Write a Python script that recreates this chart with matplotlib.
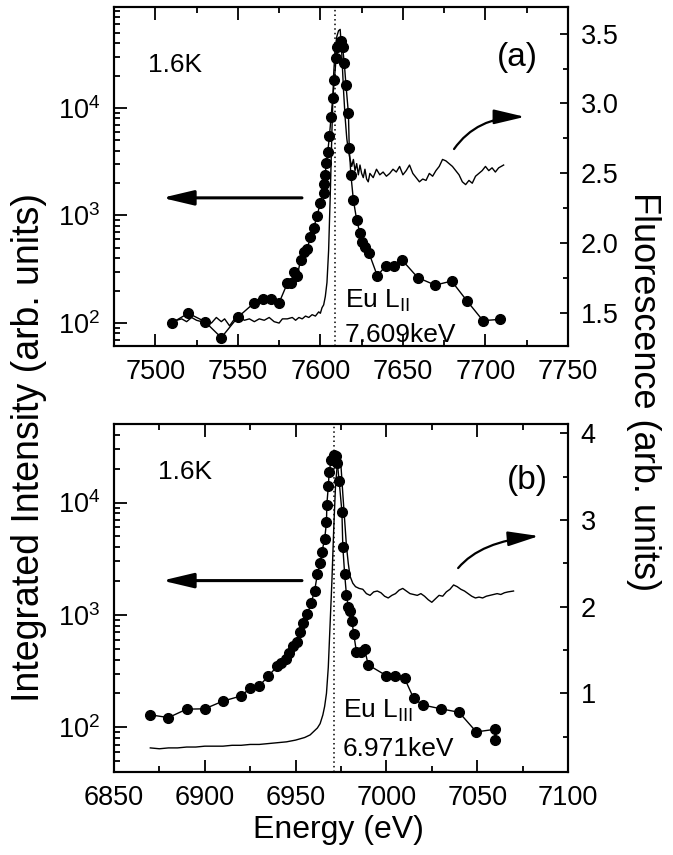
import matplotlib
matplotlib.use("Agg")
import matplotlib.pyplot as plt
from matplotlib.patches import FancyArrowPatch
from matplotlib.ticker import (MultipleLocator, LogLocator, NullFormatter,
                               FormatStrFormatter)

plt.rcParams.update({
    "font.family": ["Liberation Sans", "DejaVu Sans"],
    "mathtext.fontset": "custom",
    "mathtext.rm": "Liberation Sans",
    "mathtext.it": "Liberation Sans:italic",
    "mathtext.bf": "Liberation Sans:bold",
    "font.size": 19.5,
    "axes.linewidth": 1.5,
})

W, H = 673, 855

# --- panel (a): Eu L_II edge -------------------------------------------
energy_a = [7510, 7520, 7530, 7540, 7550, 7560, 7565, 7570, 7575, 7580,
            7582, 7584, 7586, 7588, 7590, 7592, 7594, 7596, 7598, 7600,
            7602, 7602.5, 7603, 7603.5, 7604.5, 7605.5, 7606.5, 7607.5,
            7608.5, 7609.5, 7610, 7612.5, 7613.5, 7614.5, 7615.5, 7617,
            7617.5, 7618.5, 7620, 7622, 7624, 7625.5, 7627, 7629.5, 7634.5,
            7639.5, 7644.5, 7649.5, 7659, 7669.5, 7679.5, 7689, 7698.5, 7709]
intensity_a = [100, 123, 103, 73, 113, 154, 166, 166, 154, 234,
               237, 300, 273, 385, 460, 484, 635, 770, 990, 1316,
               1630, 1950, 2380, 3100, 3920, 5500, 8300, 12500,
               18200, 29000, 36600, 42300, 36600, 26000, 16400, 8900,
               4220, 2380, 1390, 908, 682, 570, 512, 445, 274,
               339, 335, 385, 264, 225, 245, 159, 105, 108]

fl_energy_a = [7510, 7513, 7516, 7519, 7522, 7525, 7528, 7531, 7534, 7537,
               7540, 7542, 7545, 7548, 7551, 7554, 7557, 7560, 7563, 7566,
               7569, 7572, 7575, 7577, 7580, 7583, 7585, 7587, 7589, 7591,
               7593, 7595, 7597, 7599, 7600, 7601, 7602, 7603, 7604, 7605,
               7606, 7607, 7608, 7609, 7610, 7611, 7612, 7613, 7614, 7615,
               7616, 7617, 7618, 7619, 7620, 7621, 7622, 7623, 7624, 7625,
               7626, 7627, 7628, 7629, 7630, 7632, 7634, 7636, 7638, 7640,
               7642, 7644, 7646, 7648, 7650, 7652, 7654, 7656, 7658, 7660,
               7662, 7664, 7666, 7668, 7670, 7672, 7674, 7676, 7678, 7680,
               7682, 7684, 7686, 7688, 7690, 7692, 7694, 7696, 7698, 7700,
               7702, 7704, 7706, 7708, 7711]
fluor_a = [1.44, 1.45, 1.46, 1.44, 1.47, 1.45, 1.44, 1.46, 1.43, 1.47,
           1.44, 1.46, 1.41, 1.46, 1.47, 1.45, 1.46, 1.44, 1.46, 1.45,
           1.47, 1.44, 1.43, 1.46, 1.46, 1.47, 1.45, 1.47, 1.46, 1.48,
           1.47, 1.49, 1.48, 1.51, 1.50, 1.54, 1.56, 1.62, 1.72, 1.95,
           2.35, 2.80, 3.20, 3.40, 3.48, 3.52, 3.53, 3.35, 3.10, 2.90,
           2.75, 2.66, 2.60, 2.55, 2.60, 2.52, 2.57, 2.49, 2.56, 2.50,
           2.47, 2.53, 2.46, 2.44, 2.50, 2.47, 2.53, 2.49, 2.51, 2.48,
           2.50, 2.53, 2.51, 2.55, 2.49, 2.52, 2.56, 2.50, 2.47, 2.44,
           2.46, 2.45, 2.50, 2.48, 2.52, 2.55, 2.60, 2.59, 2.57, 2.55,
           2.52, 2.49, 2.44, 2.42, 2.45, 2.43, 2.48, 2.50, 2.52, 2.55,
           2.52, 2.54, 2.51, 2.54, 2.56]

# --- panel (b): Eu L_III edge ------------------------------------------
energy_b = [6870, 6880, 6890, 6900, 6910, 6920, 6925, 6930, 6935, 6940,
            6942, 6944.5, 6946.5, 6948.5, 6950.5, 6952.5, 6954, 6956.5,
            6958.5, 6960.5, 6962, 6963.5, 6964.5, 6966, 6967, 6967.2, 6968,
            6968.5, 6969.5, 6971, 6972.5, 6973, 6974, 6975.5, 6976, 6977,
            6978, 6979, 6980, 6981, 6982, 6983.5, 6986, 6988, 6990, 7000,
            7005, 7010, 7015, 7020, 7030, 7040, 7049.5, 7060, 7060]
intensity_b = [129, 122, 145, 146, 171, 190, 223, 233, 286, 351,
               376, 403, 456, 530, 578, 710, 853, 1014,
               1270, 1645, 2317, 2885, 3660, 4720, 6690, 9550, 13900,
               18700, 23700, 26600, 25700, 22400, 15400, 8300, 4050, 2317,
               1506, 1185, 1092, 889, 677, 471, 471, 495, 359, 288,
               288, 273, 181, 158, 146, 136, 91, 96, 77]

fl_energy_b = [6870, 6875, 6880, 6885, 6890, 6895, 6900, 6905, 6910, 6915,
               6920, 6925, 6930, 6935, 6940, 6945, 6950, 6955, 6958, 6960,
               6962, 6963.5, 6965, 6966, 6967, 6968, 6969, 6970, 6971, 6972,
               6973, 6974, 6975, 6976, 6977, 6978, 6979, 6980, 6981.5, 6983,
               6985, 6987, 6989, 6991, 6993, 6995, 6997, 6999, 7001, 7003,
               7005, 7007, 7009, 7011, 7013, 7015, 7017, 7019, 7021, 7023,
               7025, 7027, 7029, 7031, 7033, 7035, 7037, 7039, 7041, 7043,
               7045, 7047, 7049, 7051, 7053, 7055, 7057, 7059, 7061, 7063,
               7065, 7067, 7070]
fluor_b = [0.37, 0.36, 0.37, 0.37, 0.38, 0.38, 0.39, 0.39, 0.39, 0.40,
           0.40, 0.41, 0.41, 0.42, 0.43, 0.44, 0.46, 0.49, 0.52, 0.56,
           0.60, 0.65, 0.75, 0.85, 1.00, 1.30, 1.80, 2.30, 2.90, 3.40,
           3.65, 3.70, 3.62, 3.30, 3.00, 2.70, 2.50, 2.35, 2.27, 2.23,
           2.21, 2.20, 2.15, 2.13, 2.17, 2.18, 2.16, 2.12, 2.10, 2.13,
           2.15, 2.19, 2.21, 2.18, 2.15, 2.14, 2.13, 2.15, 2.12, 2.08,
           2.05, 2.09, 2.13, 2.12, 2.17, 2.20, 2.25, 2.23, 2.20, 2.18,
           2.15, 2.12, 2.10, 2.11, 2.10, 2.12, 2.13, 2.14, 2.15, 2.14,
           2.16, 2.17, 2.18]


def px_rect(left, top, right, bottom):
    return [left / W, 1 - bottom / H, (right - left) / W, (bottom - top) / H]


def arrow(ax, tail, tip, lw, head, conn="arc3"):
    ax.add_patch(FancyArrowPatch(
        tail, tip, transform=ax.transAxes, connectionstyle=conn,
        arrowstyle=f"-|>,head_length={head[0]},head_width={head[1]}",
        lw=lw, color="k", shrinkA=0, shrinkB=0, mutation_scale=1,
        clip_on=False, zorder=5))


def draw_panel(rect, energy, intensity, fl_energy, fluor, edge, xlim, ylim,
               flim, fl_step, fl_fmt):
    ax = fig.add_axes(rect)
    ax2 = ax.twinx()

    ax.plot(energy, intensity, "o-", color="k", ms=7, lw=1.0)
    ax2.plot(fl_energy, fluor, color="k", lw=1.0)
    ax.axvline(edge, color="k", ls=(0, (1, 2)), lw=1.1)

    ax.set_xlim(*xlim)
    ax.set_yscale("log")
    ax.set_ylim(*ylim)
    ax.xaxis.set_major_locator(MultipleLocator(50))
    ax.xaxis.set_minor_locator(MultipleLocator(25))
    ax.yaxis.set_minor_locator(LogLocator(base=10, subs=range(2, 10)))
    ax.yaxis.set_minor_formatter(NullFormatter())
    ax.tick_params(which="both", direction="in", top=True, width=1.3)
    ax.tick_params(which="major", length=9)
    ax.tick_params(which="minor", length=4.5)
    ax.tick_params(axis="x", pad=9)
    ax.tick_params(axis="y", pad=10)

    ax2.set_ylim(*flim)
    ax2.yaxis.set_major_locator(MultipleLocator(fl_step))
    ax2.yaxis.set_minor_locator(MultipleLocator(fl_step / 2))
    ax2.yaxis.set_major_formatter(FormatStrFormatter(fl_fmt))
    ax2.tick_params(which="both", direction="in", width=1.3, pad=9)
    ax2.tick_params(which="major", length=6)
    ax2.tick_params(which="minor", length=3.5)
    return ax, ax2


fig = plt.figure(figsize=(W / 100, H / 100), dpi=100)

# (a)
ax, ax2 = draw_panel(px_rect(114, 7, 568, 346), energy_a, intensity_a,
                     fl_energy_a, fluor_a, 7609, (7475, 7750), (61, 87000),
                     (1.266, 3.69), 0.5, "%.1f")
ax.text(0.075, 0.809, "1.6K", transform=ax.transAxes, fontsize=19)
ax.text(0.844, 0.826, "(a)", transform=ax.transAxes, fontsize=24)
ax.text(0.509, 0.112, r"Eu L$_{\rm II}$", transform=ax.transAxes, fontsize=19)
ax.text(0.509, 0.013, "7.609keV", transform=ax.transAxes, fontsize=19)
arrow(ax2, (0.414, 0.437), (0.106, 0.437), 2.2, (19, 4.5))
arrow(ax2, (0.749, 0.581), (0.905, 0.676), 1.6, (19, 4.5),
      "angle3,angleA=55,angleB=0")

# (b)
ax, ax2 = draw_panel(px_rect(114, 424, 568, 772), energy_b, intensity_b,
                     fl_energy_b, fluor_b, 6971, (6850, 7100), (40, 50000),
                     (0.092, 4.107), 1.0, "%d")
ax.text(0.097, 0.841, "1.6K", transform=ax.transAxes, fontsize=19)
ax.text(0.866, 0.813, "(b)", transform=ax.transAxes, fontsize=24)
ax.text(0.504, 0.155, r"Eu L$_{\rm III}$", transform=ax.transAxes, fontsize=19)
ax.text(0.504, 0.046, "6.971keV", transform=ax.transAxes, fontsize=19)
arrow(ax2, (0.414, 0.55), (0.106, 0.55), 2.2, (19, 4.5))
arrow(ax2, (0.758, 0.586), (0.936, 0.678), 1.6, (19, 4.5),
      "angle3,angleA=50,angleB=5")

fig.text(29 / W, 1 - 447 / H, "Integrated Intensity (arb. units)",
         rotation=90, ha="center", va="center", fontsize=27)
fig.text(643 / W, 1 - 392 / H, "Fluorescence (arb. units)",
         rotation=-90, ha="center", va="center", fontsize=26)
fig.text(338 / W, 1 - 830 / H, "Energy (eV)", ha="center", va="center",
         fontsize=23)

fig.savefig("out.png", dpi=100)
